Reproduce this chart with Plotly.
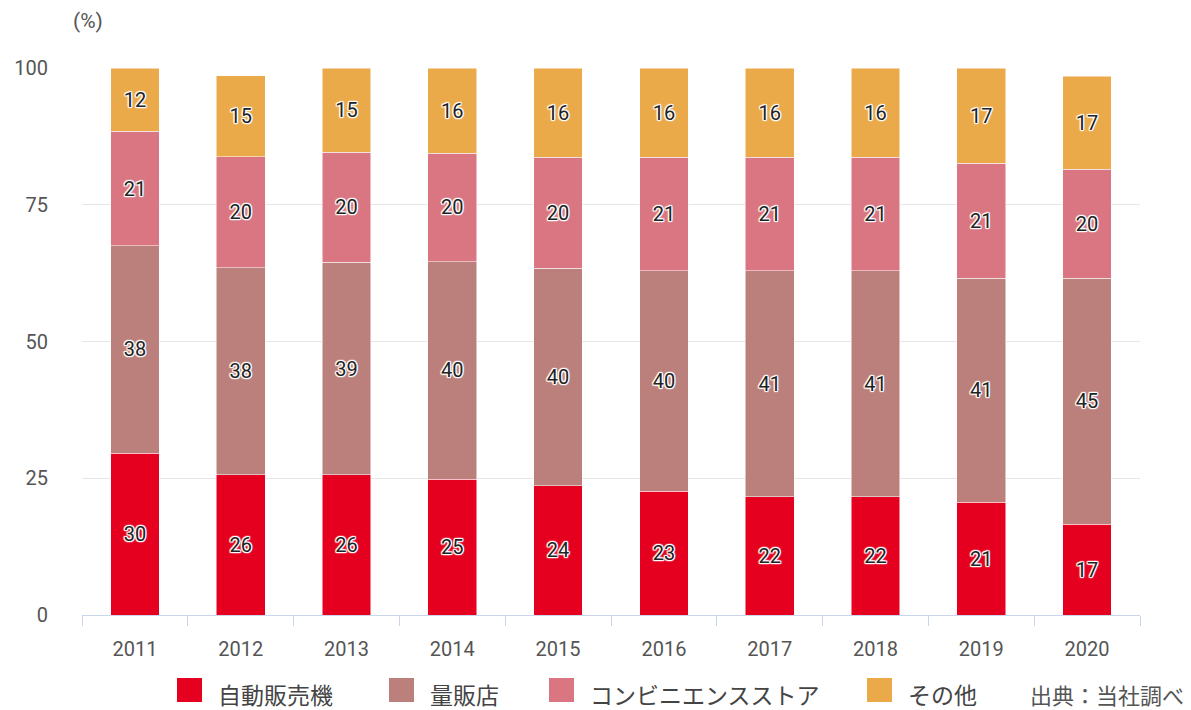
import plotly.graph_objects as go

years = ["2011", "2012", "2013", "2014", "2015", "2016", "2017", "2018", "2019", "2020"]
vending = [29.6, 25.6, 25.6, 24.8, 23.6, 22.6, 21.6, 21.6, 20.6, 16.6]
mass_retail = [37.9, 37.9, 38.9, 39.8, 39.8, 40.3, 41.3, 41.3, 41.0, 45.0]
convenience = [20.9, 20.3, 20.1, 19.8, 20.3, 20.8, 20.8, 20.8, 21.0, 19.9]
others = [11.6, 14.8, 15.4, 15.6, 16.3, 16.3, 16.3, 16.3, 17.4, 17.0]

series_names = ["自動販売機", "量販店", "コンビニエンスストア", "その他"]
series_values = [vending, mass_retail, convenience, others]
colors = ["#E60020", "#BC807C", "#D97682", "#EBAA4A"]

W, H = 1191, 710
ML, MR, MT, MB = 82, 51, 68, 95
PW, PH = W - ML - MR, H - MT - MB


def px_x(px):
    return (px - ML) / PW


def px_y(py):
    return (H - MB - py) / PH


FONT = "Roboto, 'Noto Sans CJK JP', sans-serif"
JFONT = "'Noto Sans CJK JP', sans-serif"
shadow = ("1px 1px 1px #fff, -1px -1px 1px #fff, 1px -1px 1px #fff, -1px 1px 1px #fff, "
          "0px 1px 1px #fff, 0px -1px 1px #fff, 1px 0px 1px #fff, -1px 0px 1px #fff")

fig = go.Figure()
for name, vals, col in zip(series_names, series_values, colors):
    fig.add_trace(go.Bar(
        x=years, y=vals, name=name,
        marker=dict(color=col, line=dict(width=0.5, color="#ffffff")),
        texttemplate="%{y:.0f}", textposition="inside", insidetextanchor="middle",
        textangle=0,
        textfont=dict(family=FONT, size=20, color="#222222", shadow=shadow),
        hoverinfo="skip", showlegend=False,
    ))

# custom legend (large square swatches like the reference)
legend_left_px = [177, 389, 549, 867]
shapes = []
annotations = []
for name, col, lx in zip(series_names, colors, legend_left_px):
    shapes.append(dict(type="rect", xref="paper", yref="paper",
                       x0=px_x(lx), x1=px_x(lx + 25), y0=px_y(702), y1=px_y(678),
                       fillcolor=col, line=dict(width=0)))
    annotations.append(dict(text=name, xref="paper", yref="paper", x=px_x(lx + 39), y=px_y(694),
                            xanchor="left", yanchor="middle", showarrow=False,
                            font=dict(family=JFONT, size=23, color="#444444")))

annotations.append(dict(text="(%)", xref="paper", yref="paper", x=px_x(71), y=px_y(21),
                        xanchor="left", yanchor="middle", showarrow=False,
                        font=dict(family=FONT, size=21, color="#555555")))
annotations.append(dict(text="出典：当社調べ", xref="paper", yref="paper", x=px_x(1186), y=px_y(694),
                        xanchor="right", yanchor="middle", showarrow=False,
                        font=dict(family=JFONT, size=22, color="#555555")))

fig.update_layout(
    barmode="stack",
    bargap=0.54,
    width=W, height=H,
    margin=dict(l=ML, r=MR, t=MT, b=MB, autoexpand=False),
    paper_bgcolor="#ffffff", plot_bgcolor="#ffffff",
    font=dict(family=FONT, color="#555555"),
    showlegend=False,
    xaxis=dict(
        type="category", showgrid=False, showline=True, linecolor="#ccd6eb", linewidth=1,
        ticks="outside", ticklen=10, tickcolor="#ccd6eb", tickson="boundaries",
        ticklabelstandoff=16, automargin=False,
        tickfont=dict(family=FONT, size=20, color="#555555"),
    ),
    yaxis=dict(
        range=[0, 100], tickvals=[0, 25, 50, 75, 100], showgrid=True, gridcolor="#e6e6e6",
        gridwidth=1, zeroline=False, showline=False, ticks="",
        ticklabelstandoff=33, automargin=False,
        tickfont=dict(family=FONT, size=20, color="#555555"),
    ),
    shapes=shapes,
    annotations=annotations,
)

fig.write_html("out.html", config={"displayModeBar": False},
               post_script="document.body.style.margin='0px';document.body.style.overflow='hidden';")
